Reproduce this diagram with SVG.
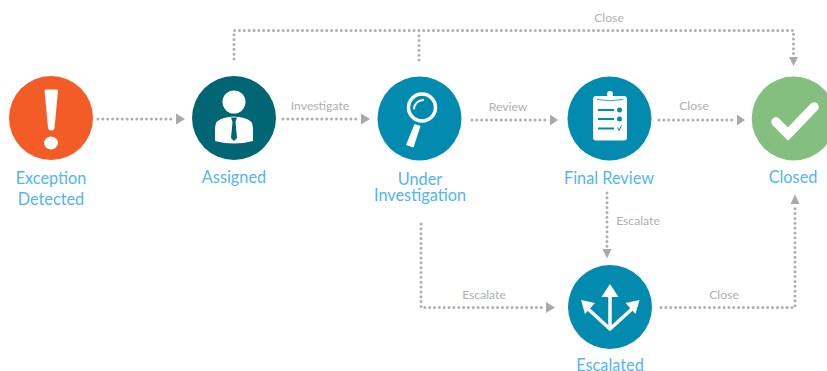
<svg xmlns="http://www.w3.org/2000/svg" width="827" height="371" viewBox="0 0 827 371">
<style>
.c{fill:none;stroke:#adafb2;stroke-width:3;stroke-linecap:round;stroke-dasharray:0 4.85}
.a{fill:#a7a9ac}
.l{font:400 12.200px Lato,"Open Sans",sans-serif;fill:#adafb2;text-anchor:middle}
.n{font:400 16.300px Lato,"Open Sans",sans-serif;fill:#54b5f0;text-anchor:middle}
.w{fill:#fff}
</style>
<rect width="827" height="371" fill="#fff"/>
<g id="connectors">
<path class="c" d="M98 119H172"/><path class="a" d="M176 113.500L185 119L176 124.500Z"/>
<path class="c" d="M283 119H357"/><path class="a" d="M361 113.500L370 119L361 124.500Z"/>
<path class="c" d="M472 120H546"/><path class="a" d="M550 114.500L558 120L550 125.500Z"/>
<path class="c" d="M659 120H733"/><path class="a" d="M737 114.500L745 120L737 125.500Z"/>
<path class="c" d="M234 59V30.500H793.500V55"/><path class="a" d="M789 57H798L793.500 66Z"/>
<path class="c" d="M419 60V31"/>
<path class="c" d="M607 193V247"/><path class="a" d="M602.500 249H611.500L607 258.500Z"/>
<path class="c" d="M421 224V307.500H542"/><path class="a" d="M546 302L555 307.500L546 313Z"/>
<path class="c" d="M661 307.500H795V208"/><path class="a" d="M790.500 204H799.500L795 194.500Z"/>
<text class="l" x="609" y="22">Close</text>
<text class="l" x="320" y="110">Investigate</text>
<text class="l" x="508" y="111">Review</text>
<text class="l" x="694" y="110">Close</text>
<text class="l" x="638" y="225">Escalate</text>
<text class="l" x="484" y="299">Escalate</text>
<text class="l" x="724" y="299">Close</text>
</g>
<g id="exception-detected">
<circle cx="51" cy="118" r="42" fill="#f35b27"/>
<path class="w" d="M44.500 90.500Q44.500 89.500 46 89.500H56.500Q58 89.500 58 91L54.500 128Q54 130.500 51 130.500Q48.500 130.500 48 128Z"/>
<ellipse class="w" cx="51" cy="143" rx="7" ry="6.500"/>
<text class="n"><tspan x="51" y="184">Exception</tspan><tspan x="51" y="205">Detected</tspan></text>
</g>
<g id="assigned">
<circle cx="234" cy="118" r="42" fill="#006674"/>
<circle class="w" cx="234" cy="102" r="11.500"/>
<path class="w" d="M215 141V128Q215 120 224 118Q229 116.500 234 116.500Q239 116.500 244 118Q253 120 253 128V141Q234 146 215 141Z"/>
<path d="M231 117.500H237L235.500 122L237 138L234 141L231 138L232.500 122Z" fill="#006674"/>
<text class="n" x="234" y="183">Assigned</text>
</g>
<g id="under-investigation">
<circle cx="419.500" cy="118.500" r="42" fill="#028bae"/>
<circle cx="422" cy="107.500" r="13.500" fill="none" stroke="#fff" stroke-width="3.500"/>
<path d="M414 108.500Q415 101 423 100" fill="none" stroke="#fff" stroke-width="2" stroke-linecap="round"/>
<path class="w" d="M414.500 124L420.500 126L413.500 147.500L406 145Z"/>
<text class="n"><tspan x="420" y="184.500">Under</tspan><tspan x="420" y="200.500">Investigation</tspan></text>
</g>
<g id="final-review">
<circle cx="609.500" cy="118.500" r="42" fill="#028bae"/>
<rect class="w" x="593" y="96" width="34" height="44.500" rx="3"/>
<circle class="w" cx="610" cy="94" r="3"/>
<path d="M597 99.500Q610 102 623 99.500" fill="none" stroke="#028bae" stroke-width="0.800"/>
<path d="M598 110H614M598 119H614M598 128.500H614" stroke="#028bae" stroke-width="2"/>
<circle cx="619.500" cy="110" r="2.500" fill="#028bae"/><circle cx="619.500" cy="119" r="2.500" fill="#028bae"/>
<path d="M617.500 127.500L619 130.500L621.500 125.500" fill="none" stroke="#028bae" stroke-width="1"/>
<text class="n" x="609" y="184">Final Review</text>
</g>
<g id="closed">
<circle cx="793.700" cy="118.500" r="42" fill="#84bf7f"/>
<path d="M776 122L788 134L814 107" fill="none" stroke="#fff" stroke-width="9.500" stroke-linecap="round"/>
<text class="n" x="793" y="183">Closed</text>
</g>
<g id="escalated">
<circle cx="610" cy="307" r="42" fill="#028bae"/>
<path d="M610 295V328M610 329L587 308M610 329L633 308" fill="none" stroke="#fff" stroke-width="3.500" stroke-linejoin="round" stroke-linecap="round"/>
<path class="w" d="M610 284L618.500 297H601.500Z"/>
<path class="w" d="M581 300L595 303L585 314Z"/>
<path class="w" d="M639.500 300L625.500 303L635.500 314Z"/>
<text class="n" x="610" y="370.500">Escalated</text>
</g>
</svg>
